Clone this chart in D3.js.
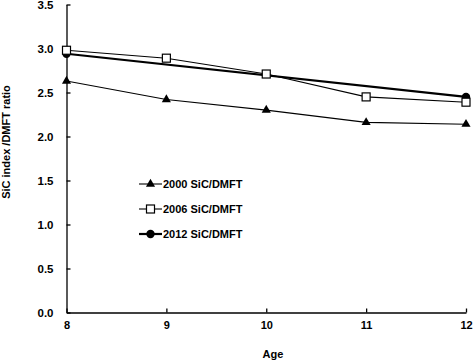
<!DOCTYPE html>
<html>
<head>
<meta charset="utf-8">
<script src="https://cdn.jsdelivr.net/npm/d3@7"></script>
<style>
  body { margin: 0; background: #fff; }
  text { font-family: "Liberation Sans", Arial, sans-serif; font-weight: bold; fill: #000; }
</style>
</head>
<body>
<div id="chart"></div>
<script>
const width = 473;
const height = 361;

// data
const ages = [8, 9, 10, 11, 12];
const sic2000 = [2.63, 2.42, 2.30, 2.16, 2.14];
const sic2006 = [2.98, 2.89, 2.71, 2.45, 2.39];
const ages2012 = [8, 12];
const sic2012 = [2.94, 2.45];
const yTicks = [0, 0.5, 1, 1.5, 2, 2.5, 3, 3.5];
const seriesNames = ["2000 SiC/DMFT", "2006 SiC/DMFT", "2012 SiC/DMFT"];

const margin = { left: 66.5, right: 7, top: 4.5, bottom: 48.5 };

const svg = d3.select("#chart")
  .append("svg")
  .attr("width", width)
  .attr("height", height);

const xScale = d3.scaleLinear()
  .domain([8, 12])
  .range([margin.left, width - margin.right]);

const yScale = d3.scaleLinear()
  .domain([0, 3.5])
  .range([height - margin.bottom, margin.top]);

const xAxis = d3.axisBottom(xScale).tickValues(ages).tickFormat(d3.format("d"))
  .tickSizeInner(-4).tickSizeOuter(0).tickPadding(9);
const yAxis = d3.axisLeft(yScale).tickValues(yTicks).tickFormat(d3.format(".1f"))
  .tickSizeInner(-4).tickSizeOuter(0).tickPadding(13);

svg.append("g")
  .attr("transform", `translate(0, ${height - margin.bottom})`)
  .call(xAxis)
  .call(g => g.selectAll("text").style("font-size", "11px"))
  .call(g => g.selectAll("line, path").attr("stroke", "#000").attr("stroke-width", 1.3));

svg.append("g")
  .attr("transform", `translate(${margin.left}, 0)`)
  .call(yAxis)
  .call(g => g.selectAll("text").style("font-size", "11.5px").attr("dy", "0.36em"))
  .call(g => g.selectAll("line, path").attr("stroke", "#000").attr("stroke-width", 1.3));

svg.append("text")
  .attr("x", 273)
  .attr("y", 358)
  .attr("text-anchor", "middle")
  .style("font-size", "11px")
  .text("Age");

svg.append("text")
  .attr("transform", "translate(10, 142) rotate(-90)")
  .attr("text-anchor", "middle")
  .style("font-size", "11px")
  .text("SiC index /DMFT ratio");

const line = d3.line().x(d => xScale(d[0])).y(d => yScale(d[1]));

const s2000 = ages.map((a, i) => [a, sic2000[i]]);
const s2006 = ages.map((a, i) => [a, sic2006[i]]);
const s2012 = ages2012.map((a, i) => [a, sic2012[i]]);

const tri = d3.symbol().type(d3.symbolTriangle).size(36);

function drawSeries(pts, sw, marker) {
  svg.append("path")
    .datum(pts)
    .attr("d", line)
    .attr("fill", "none")
    .attr("stroke", "#000")
    .attr("stroke-width", sw);
  pts.forEach(p => marker(svg, xScale(p[0]), yScale(p[1])));
}

function triMark(g, x, y) {
  g.append("path").attr("d", tri).attr("transform", `translate(${x},${y})`).attr("fill", "#000");
}
function sqMark(g, x, y) {
  g.append("rect").attr("x", x - 4).attr("y", y - 4).attr("width", 8).attr("height", 8)
    .attr("fill", "#fff").attr("stroke", "#000").attr("stroke-width", 1.2);
}
function dotMark(g, x, y) {
  g.append("circle").attr("cx", x).attr("cy", y).attr("r", 4.2).attr("fill", "#000");
}

drawSeries(s2000, 1.1, triMark);
drawSeries(s2012, 2.2, dotMark);
drawSeries(s2006, 1.1, sqMark);

// legend
const legendY = [184, 209, 234];
const markers = [triMark, sqMark, dotMark];
const widths = [1.1, 1.1, 2.2];
seriesNames.forEach((name, i) => {
  const y = legendY[i];
  svg.append("line").attr("x1", 139).attr("x2", 162).attr("y1", y).attr("y2", y)
    .attr("stroke", "#000").attr("stroke-width", widths[i]);
  markers[i](svg, 150.5, y);
  svg.append("text").attr("x", 163).attr("y", y).attr("dy", "0.36em")
    .style("font-size", "11px").text(name);
});
</script>
</body>
</html>
